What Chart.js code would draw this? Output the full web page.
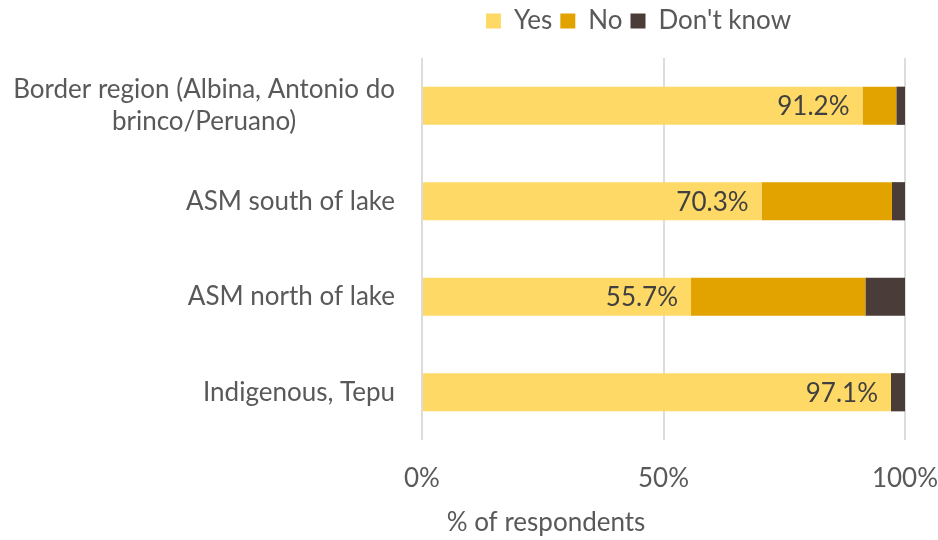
<!DOCTYPE html>
<html>
<head>
<meta charset="utf-8">
<script src="https://cdn.jsdelivr.net/npm/chart.js@4/dist/chart.umd.min.js"></script>
<style>
  html, body { margin: 0; padding: 0; background: #fff; }
  #wrap { width: 938px; height: 540px; }
</style>
</head>
<body>
<div id="wrap"><canvas id="accessChart"></canvas></div>
<script>
const regions = [
  ['Border region (Albina, Antonio do', 'brinco/Peruano)'],
  'ASM south of lake',
  'ASM north of lake',
  'Indigenous, Tepu'
];
const yesPct = [91.2, 70.3, 55.7, 97.1];
const noPct = [7.0, 27.0, 36.1, 0];
const dontKnowPct = [1.8, 2.7, 8.2, 2.9];
const xTicks = [0, 50, 100];

const FONT = 'Lato, "Liberation Sans", sans-serif';
const SIZE = 26;
const TEXT = '#595959';

// category labels: right-aligned block, each line centred inside it
const regionLabels = {
  id: 'regionLabels',
  afterDraw(chart) {
    const { ctx, scales: { y }, chartArea } = chart;
    ctx.save();
    ctx.font = SIZE + 'px ' + FONT;
    ctx.fillStyle = TEXT;
    ctx.textAlign = 'center';
    ctx.textBaseline = 'middle';
    const right = chartArea.left - 27;
    regions.forEach((lab, i) => {
      const lines = [].concat(lab);
      const w = Math.max(...lines.map(l => ctx.measureText(l).width));
      const cy = y.getPixelForTick(i);
      const lh = 32;
      lines.forEach((l, j) => {
        ctx.fillText(l, right - w / 2, cy + (j - (lines.length - 1) / 2) * lh);
      });
    });
    ctx.restore();
  }
};

// "Yes" share printed at the inner end of its segment
const yesLabels = {
  id: 'yesLabels',
  afterDatasetsDraw(chart) {
    const { ctx } = chart;
    const meta = chart.getDatasetMeta(0);
    ctx.save();
    ctx.font = SIZE + 'px ' + FONT;
    ctx.fillStyle = '#404040';
    ctx.textAlign = 'right';
    ctx.textBaseline = 'middle';
    meta.data.forEach((bar, i) => {
      ctx.fillText(yesPct[i].toFixed(1) + '%', bar.x - 13, bar.y + 1);
    });
    ctx.restore();
  }
};

// x axis caption sits left of centre
const axisCaption = {
  id: 'axisCaption',
  afterDraw(chart) {
    const { ctx, chartArea, scales: { x } } = chart;
    ctx.save();
    ctx.font = SIZE + 'px ' + FONT;
    ctx.fillStyle = TEXT;
    ctx.textAlign = 'center';
    ctx.textBaseline = 'middle';
    ctx.fillText('% of respondents', chartArea.left + 124, x.bottom - 17);
    ctx.restore();
  }
};

// extra room under the legend and shift it right
const legendPlace = {
  id: 'legendPlace',
  afterInit(chart) {
    const lg = chart.legend;
    const fit = lg.fit;
    lg.fit = function () { fit.call(this); this.height += 14; };
  },
  afterLayout(chart) {
    const lg = chart.legend;
    lg.left += 186;
    lg.right += 186;
  }
};

new Chart(document.getElementById('accessChart'), {
  type: 'bar',
  data: {
    labels: regions,
    datasets: [
      { label: 'Yes', data: yesPct, backgroundColor: '#FFD966' },
      { label: 'No', data: noPct, backgroundColor: '#E2A300' },
      { label: "Don't know", data: dontKnowPct, backgroundColor: '#4A3C39' }
    ]
  },
  options: {
    indexAxis: 'y',
    responsive: true,
    maintainAspectRatio: false,
    animation: false,
    datasets: { bar: { categoryPercentage: 1, barPercentage: 0.4, borderWidth: 0 } },
    layout: { padding: { left: 0, right: 33, top: 0, bottom: 0 } },
    plugins: {
      tooltip: { enabled: false },
      legend: {
        position: 'top',
        labels: {
          font: { family: FONT, size: SIZE },
          color: TEXT,
          boxWidth: 15,
          boxHeight: 15,
          padding: 8
        }
      }
    },
    scales: {
      x: {
        stacked: true,
        min: 0,
        max: 100,
        afterBuildTicks: s => { s.ticks = xTicks.map(v => ({ value: v })); },
        afterFit: s => { s.height = 100; s.paddingRight = 0; s.paddingLeft = 0; },
        grid: { color: '#dcdcdc', lineWidth: 2, drawTicks: false },
        border: { display: false },
        ticks: {
          font: { family: FONT, size: SIZE },
          color: TEXT,
          padding: 23,
          maxRotation: 0,
          callback: v => v + '%'
        }
      },
      y: {
        stacked: true,
        afterFit: s => { s.width = 422; },
        grid: { display: false, drawTicks: false },
        border: { display: false },
        ticks: { display: false }
      }
    }
  },
  plugins: [regionLabels, yesLabels, axisCaption, legendPlace]
});
</script>
</body>
</html>
